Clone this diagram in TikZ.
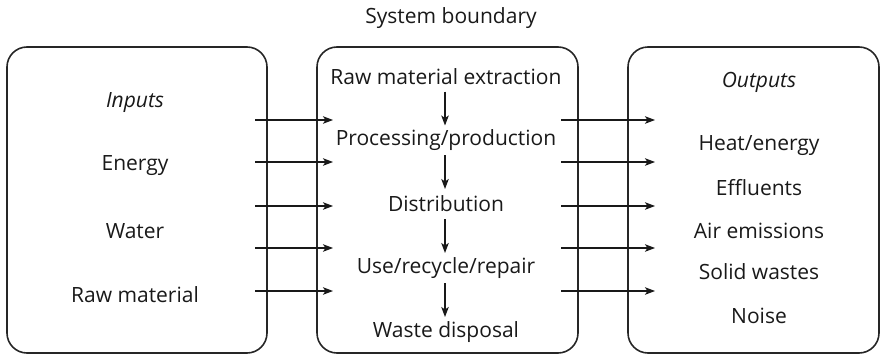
\documentclass[tikz,border=0pt]{standalone}
\usepackage{fontspec}
\setmainfont{Open Sans}
\usetikzlibrary{arrows.meta,calc}
\begin{document}
\begin{tikzpicture}[x=1pt,y=-1pt,
  boxst/.style={draw=black!85,line width=1.6pt,rounded corners=20pt},
  lbl/.style={inner sep=0pt,font=\fontsize{21}{25}\selectfont,text=black!90},
  arr/.style={draw=black!90,line width=1.2pt,-{Stealth[length=10pt,width=7.5pt,inset=2.5pt]}}]
\useasboundingbox (0,0) rectangle (882,356);
% boxes
\draw[boxst] (7,47) rectangle (267,353);
\draw[boxst] (317,47) rectangle (578,353);
\draw[boxst] (628,47) rectangle (879,353);
% title
\node[lbl] (title) at (451,18) {System boundary};
% left texts
\node[lbl] (inp) at (135,103) {\itshape Inputs};
\node[lbl] (i1) at (135,166) {Energy};
\node[lbl] (i2) at (135,231) {Water};
\node[lbl] (i3) at (135,295) {Raw material};
% middle texts
\node[lbl] (m1) at (446,77) {Raw material extraction};
\node[lbl] (m2) at (446,140) {Processing/production};
\node[lbl] (m3) at (446,204) {Distribution};
\node[lbl] (m4) at (446,268) {Use/recycle/repair};
\node[lbl] (m5) at (446,332) {Waste disposal};
% right texts
\node[lbl] (out) at (759,82) {\itshape Outputs};
\node[lbl] (o1) at (759,146) {Heat/energy};
\node[lbl] (o2) at (759,188) {Effluents};
\node[lbl] (o3) at (759,231) {Air emissions};
\node[lbl] (o4) at (759,272) {Solid wastes};
\node[lbl] (o5) at (759,316) {Noise};
% vertical arrows
\foreach \a/\b in {m1/m2,m2/m3,m3/m4,m4/m5}{
  \draw[arr] ($(\a)!0.5!(\b)+(-1,-17)$) -- ($(\a)!0.5!(\b)+(-1,17)$);
}
% horizontal arrows
\foreach \y [count=\k] in {120,162,206,248,291}{
  \coordinate (ls\k) at (255,\y);
  \coordinate (le\k) at (333,\y);
  \coordinate (rs\k) at (561,\y);
  \coordinate (re\k) at (655,\y);
  \draw[arr] (ls\k) -- (le\k);
  \draw[arr] (rs\k) -- (re\k);
}
\end{tikzpicture}
\end{document}
